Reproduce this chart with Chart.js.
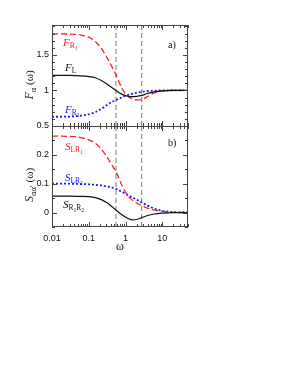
<!DOCTYPE html>
<html>
<head>
<meta charset="utf-8">
<script src="https://cdn.jsdelivr.net/npm/chart.js@4.4.0/dist/chart.umd.min.js"></script>
<style>
  html, body { margin: 0; padding: 0; background: #fff; }
  canvas { display: block; }
</style>
</head>
<body>
<canvas id="chart" width="291" height="376"></canvas>
<script>
// frequency grid (shared by all curves)
const omega = [0.01, 0.03, 0.06, 0.1, 0.15, 0.22, 0.33, 0.45, 0.55, 0.78, 1.1, 1.5, 2.0, 2.75, 4, 6, 10, 20, 50];

// panel a) F_alpha(omega)
const fR1 = [1.795, 1.793, 1.78, 1.75, 1.69, 1.59, 1.44, 1.31, 1.22, 1.04, 0.93, 0.885, 0.868, 0.872, 0.915, 0.965, 0.993, 1.0, 1.0];
const fL  = [1.212, 1.211, 1.205, 1.195, 1.178, 1.14, 1.08, 1.03, 1.0, 0.948, 0.922, 0.913, 0.916, 0.93, 0.958, 0.98, 0.995, 1.0, 1.0];
const fR2 = [0.63, 0.632, 0.645, 0.665, 0.695, 0.74, 0.805, 0.845, 0.865, 0.9, 0.932, 0.952, 0.968, 0.982, 0.992, 0.997, 1.0, 1.0, 1.0];

// panel b) S_alpha alpha'(omega)
const sLR1  = [0.265, 0.264, 0.26, 0.252, 0.24, 0.22, 0.188, 0.16, 0.142, 0.097, 0.062, 0.044, 0.033, 0.024, 0.015, 0.009, 0.004, 0.001, 0];
const sLR2  = [0.1, 0.1, 0.099, 0.098, 0.096, 0.094, 0.09, 0.086, 0.082, 0.073, 0.062, 0.053, 0.045, 0.035, 0.024, 0.014, 0.006, 0.002, 0];
const sR1R2 = [0.057, 0.057, 0.056, 0.055, 0.052, 0.045, 0.032, 0.018, 0.009, -0.007, -0.019, -0.025, -0.024, -0.018, -0.01, -0.005, -0.002, 0, 0];

// dashed markers and axis ranges / ticks
const markOmega = [0.55, 2.75];
const xRange = [0.01, 50];
const topRange = [0.5, 1.92];
const botRange = [-0.05, 0.3];
const xTicks = [0.01, 0.1, 1, 10];
const topTicks = [0.5, 1, 1.5];
const botTicks = [0, 0.1, 0.2];
const topMinorStep = 0.1;
const botMinorStep = 0.05;

const SERIF = '"Liberation Serif", "Times New Roman", serif';
const SANS = '"Liberation Sans", Arial, sans-serif';
const RED = '#ff1a1a', BLUE = '#1a1aff', INK = '#111';

const pts = arr => omega.map((w, i) => ({ x: w, y: arr[i] }));

function curve(data, axis, color, dash, width) {
  return {
    data: pts(data), yAxisID: axis, borderColor: color, borderWidth: width,
    borderDash: dash, pointRadius: 0, cubicInterpolationMode: 'monotone', fill: false
  };
}

const markers = [];
markOmega.forEach(w => {
  markers.push({ data: [{ x: w, y: topRange[0] }, { x: w, y: topRange[1] }], yAxisID: 'yTop' });
  markers.push({ data: [{ x: w, y: botRange[0] }, { x: w, y: botRange[1] }], yAxisID: 'yBot' });
});
markers.forEach(m => Object.assign(m, { borderColor: '#777', borderWidth: 1, borderDash: [5, 3], pointRadius: 0 }));

// text made of runs: [text, font, dy]
function runs(ctx, x, y, parts, color) {
  ctx.fillStyle = color;
  ctx.textAlign = 'left';
  ctx.textBaseline = 'alphabetic';
  parts.forEach(([t, font, dy]) => {
    ctx.font = font;
    ctx.fillText(t, x, y + dy);
    x += ctx.measureText(t).width;
  });
}
function runsWidth(ctx, parts) {
  let w = 0;
  parts.forEach(([t, font]) => { ctx.font = font; w += ctx.measureText(t).width; });
  return w;
}

const big = 'italic 11px ' + SERIF;
const sub = '7.5px ' + SERIF;
const sub2 = '5.5px ' + SERIF;

const decor = {
  id: 'decor',
  afterDatasetsDraw(chart) {
    const { ctx, scales } = chart;
    const x = scales.x, yt = scales.yTop, yb = scales.yBot;
    const L = x.left, R = x.right;
    ctx.save();
    ctx.strokeStyle = '#444';
    ctx.lineWidth = 1;
    ctx.setLineDash([]);
    ctx.strokeRect(L + 0.5, yt.top + 0.5, R - L - 1, yb.bottom - yt.top - 1);
    ctx.beginPath();
    ctx.moveTo(L, Math.round(yt.bottom) + 0.5);
    ctx.lineTo(R, Math.round(yt.bottom) + 0.5);
    ctx.stroke();

    // x ticks on every horizontal edge, pointing inwards
    const edges = [[yt.top, 1], [yt.bottom, -1], [yb.top, 1], [yb.bottom, -1]];
    ctx.beginPath();
    for (let d = xRange[0]; d < xRange[1]; d *= 10) {
      for (let m = 1; m <= 9; m++) {
        const v = d * m;
        if (v > xRange[1]) break;
        const px = Math.round(x.getPixelForValue(v)) + 0.5;
        const len = m === 1 ? 5 : 3;
        edges.forEach(([ey, dir]) => { ctx.moveTo(px, ey); ctx.lineTo(px, ey + dir * len); });
      }
    }
    // y ticks on left and right
    const yTicksFor = (scale, range, step, majors) => {
      for (let v = range[0]; v <= range[1] + 1e-9; v += step) {
        const val = Math.round(v * 1000) / 1000;
        const py = Math.round(scale.getPixelForValue(val)) + 0.5;
        const len = majors.includes(val) ? 5 : 3;
        ctx.moveTo(L, py); ctx.lineTo(L + len, py);
        ctx.moveTo(R, py); ctx.lineTo(R - len, py);
      }
    };
    yTicksFor(yt, [0.5, topRange[1]], topMinorStep, topTicks);
    yTicksFor(yb, botRange, botMinorStep, botTicks);
    ctx.stroke();

    // curve labels
    runs(ctx, 63, 46, [['F', big, 0], ['R', sub, 2], ['1', sub2, 3.5]], RED);
    runs(ctx, 65, 71, [['F', big, 0], ['L', sub, 2]], INK);
    runs(ctx, 65, 113, [['F', big, 0], ['R', sub, 2], ['2', sub2, 3.5]], BLUE);
    runs(ctx, 65, 150, [['S', big, 0], ['LR', sub, 2], ['1', sub2, 3.5]], RED);
    runs(ctx, 65, 181, [['S', big, 0], ['LR', sub, 2], ['2', sub2, 3.5]], BLUE);
    runs(ctx, 63, 208, [['S', big, 0], ['R', sub, 2], ['1', sub2, 3.5], ['R', sub, 2], ['2', sub2, 3.5]], INK);

    // panel tags
    runs(ctx, 168, 48, [['a)', '10px ' + SERIF, 0]], INK);
    runs(ctx, 168, 146, [['b)', '10px ' + SERIF, 0]], INK);

    // y axis titles (rotated)
    const title = (cx, cy, parts) => {
      ctx.save();
      ctx.translate(cx, cy);
      ctx.rotate(-Math.PI / 2);
      runs(ctx, -runsWidth(ctx, parts) / 2, 0, parts, INK);
      ctx.restore();
    };
    title(33, 85, [['F', 'italic 12px ' + SERIF, 0], ['α', '8.5px ' + SERIF, 2.5], [' (ω)', '11px ' + SERIF, 0]]);
    title(33, 185, [['S', 'italic 12px ' + SERIF, 0], ['αα′', '8.5px ' + SERIF, 2.5], [' (ω)', '11px ' + SERIF, 0]]);
    ctx.restore();
  }
};

const yCommon = {
  type: 'linear', position: 'left', stack: 'panels', stackWeight: 1,
  grid: { display: false, drawTicks: false }, border: { display: false },
  ticks: { padding: 3, color: INK, font: { family: SANS, size: 9 }, callback: v => String(v) },
  afterFit: s => { s.width = 52; }
};

new Chart(document.getElementById('chart'), {
  type: 'line',
  data: {
    datasets: [
      curve(fL, 'yTop', INK, [], 1.2),
      curve(fR1, 'yTop', RED, [6, 3], 1.3),
      curve(fR2, 'yTop', BLUE, [2, 2], 1.8),
      curve(sR1R2, 'yBot', INK, [], 1.2),
      curve(sLR1, 'yBot', RED, [6, 3], 1.3),
      curve(sLR2, 'yBot', BLUE, [2, 2], 1.8),
      ...markers
    ]
  },
  options: {
    responsive: false,
    animation: false,
    devicePixelRatio: 1,
    layout: { padding: { top: 25, right: 103, left: 0, bottom: 122 } },
    plugins: { legend: { display: false }, tooltip: { enabled: false } },
    scales: {
      x: {
        type: 'logarithmic', position: 'bottom', min: xRange[0], max: xRange[1],
        grid: { display: false, drawTicks: false }, border: { display: false },
        afterBuildTicks: s => { s.ticks = xTicks.map(v => ({ value: v })); },
        ticks: { padding: 6, maxRotation: 0, autoSkip: false, color: INK, font: { family: SANS, size: 9 }, callback: v => String(v) },
        title: { display: true, text: 'ω', color: INK, font: { family: SERIF, size: 12 }, padding: { top: 2, bottom: 0 } },
        afterFit: s => { s.height = 27; }
      },
      yBot: Object.assign({}, yCommon, {
        min: botRange[0], max: botRange[1],
        afterBuildTicks: s => { s.ticks = botTicks.map(v => ({ value: v })); }
      }),
      yTop: Object.assign({}, yCommon, {
        min: topRange[0], max: topRange[1],
        afterBuildTicks: s => { s.ticks = topTicks.map(v => ({ value: v })); }
      })
    }
  },
  plugins: [decor]
});
</script>
</body>
</html>
